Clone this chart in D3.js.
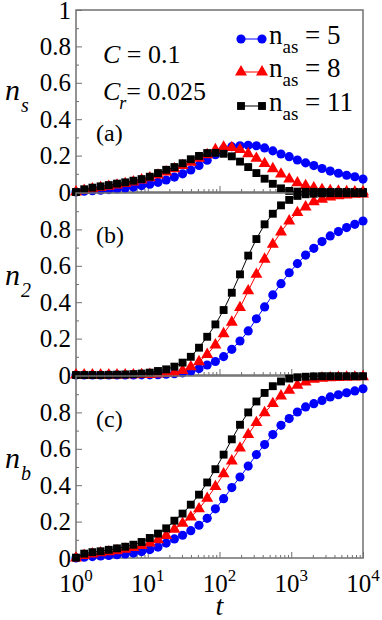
<!DOCTYPE html>
<html><head><meta charset="utf-8">
<script src="https://cdn.jsdelivr.net/npm/d3@7"></script>
<style>
body{margin:0;background:#fff;}
svg{display:block;}
#chart text, #chart tspan{font-family:"Liberation Serif" !important;}
</style>
</head><body>
<svg id="chart" width="382" height="620"></svg>
<script>
// sample times
const tValues = [1, 1.301, 1.693, 2.203, 2.865, 3.728, 4.850, 6.310, 8.209, 10.68, 13.89, 18.07, 23.51, 30.59, 39.81, 51.79, 67.38, 87.68, 114.1, 148.4, 193.1, 251.2, 326.8, 425.3, 553.3, 719.7, 936.5, 1218, 1585, 2062, 2683, 3491, 4542, 5910, 7689, 10000];

// panel (a): n_s
const ns5  = [0, 0.004, 0.007, 0.010, 0.013, 0.017, 0.021, 0.027, 0.035, 0.043, 0.053, 0.066, 0.082, 0.100, 0.121, 0.146, 0.175, 0.205, 0.236, 0.249, 0.254, 0.257, 0.254, 0.242, 0.226, 0.209, 0.194, 0.176, 0.160, 0.145, 0.129, 0.115, 0.103, 0.092, 0.084, 0.071];
const ns8  = [0, 0.009, 0.017, 0.024, 0.031, 0.038, 0.046, 0.055, 0.066, 0.078, 0.093, 0.110, 0.128, 0.145, 0.163, 0.185, 0.205, 0.232, 0.247, 0.244, 0.233, 0.210, 0.185, 0.156, 0.128, 0.098, 0.071, 0.050, 0.035, 0.023, 0.013, 0.008, 0.004, 0.002, 0.001, 0.001];
const ns11 = [0, 0.015, 0.024, 0.031, 0.038, 0.046, 0.053, 0.062, 0.071, 0.084, 0.104, 0.122, 0.137, 0.158, 0.180, 0.198, 0.214, 0.215, 0.210, 0.196, 0.167, 0.137, 0.104, 0.073, 0.045, 0.020, 0.006, 0.002, 0.001, 0.001, 0, 0, 0, 0, 0, 0];

// panel (b): n_2
const n2_5  = [0, 0, 0, 0, 0, 0, 0, 0, 0.001, 0.001, 0.002, 0.004, 0.007, 0.012, 0.021, 0.035, 0.055, 0.074, 0.101, 0.141, 0.187, 0.242, 0.309, 0.374, 0.440, 0.502, 0.562, 0.612, 0.659, 0.696, 0.733, 0.764, 0.788, 0.810, 0.828, 0.846];
const n2_8  = [0, 0, 0, 0, 0, 0, 0.001, 0.001, 0.002, 0.003, 0.005, 0.008, 0.012, 0.025, 0.045, 0.073, 0.113, 0.165, 0.227, 0.290, 0.370, 0.462, 0.553, 0.636, 0.718, 0.786, 0.846, 0.892, 0.923, 0.952, 0.965, 0.978, 0.985, 0.989, 0.993, 0.994];
const n2_11 = [0, 0, 0, 0, 0.001, 0.002, 0.003, 0.005, 0.008, 0.013, 0.022, 0.031, 0.046, 0.068, 0.100, 0.150, 0.210, 0.278, 0.357, 0.452, 0.553, 0.656, 0.747, 0.828, 0.886, 0.932, 0.962, 0.984, 0.993, 0.996, 0.998, 0.999, 0.999, 0.999, 0.999, 0.999];

// panel (c): n_b
const nb5  = [0, 0.004, 0.008, 0.011, 0.014, 0.018, 0.022, 0.027, 0.035, 0.046, 0.060, 0.082, 0.105, 0.125, 0.150, 0.180, 0.218, 0.270, 0.326, 0.387, 0.445, 0.505, 0.568, 0.623, 0.678, 0.729, 0.766, 0.802, 0.830, 0.848, 0.866, 0.885, 0.897, 0.908, 0.918, 0.930];
const nb8  = [0, 0.014, 0.022, 0.028, 0.034, 0.040, 0.048, 0.057, 0.068, 0.082, 0.100, 0.124, 0.158, 0.190, 0.225, 0.270, 0.328, 0.392, 0.462, 0.533, 0.604, 0.678, 0.744, 0.798, 0.848, 0.890, 0.921, 0.949, 0.967, 0.982, 0.988, 0.990, 0.992, 0.993, 0.994, 0.995];
const nb11 = [0.002, 0.024, 0.032, 0.037, 0.045, 0.053, 0.062, 0.073, 0.088, 0.110, 0.134, 0.163, 0.205, 0.244, 0.293, 0.348, 0.415, 0.488, 0.568, 0.652, 0.732, 0.800, 0.860, 0.907, 0.944, 0.970, 0.986, 0.993, 0.996, 0.998, 0.999, 0.999, 0.999, 0.999, 0.999, 0.999];

const seriesLabels = ["5", "8", "11"];
const yTicksA = [0, 0.2, 0.4, 0.6, 0.8, 1];
const yTicksBC = [0, 0.2, 0.4, 0.6, 0.8];
const yMinor = [0.1, 0.3, 0.5, 0.7, 0.9];
const xMajorExp = [0, 1, 2, 3, 4];

const FONT = "Liberation Serif";
const colors = ["#0000ff", "#ff0000", "#000000"];
const lineColors = ["#0000ff", "#ff0000", "#000000"];
const shapes = [d3.symbolCircle, d3.symbolTriangle, d3.symbolSquare];
const sizes = [66, 62, 62];

const svg = d3.select("#chart").attr("font-family", FONT);
const X0 = 76, X1 = 363;
const x = d3.scaleLog().domain([1, 1e4]).range([X0, X1]);
const frameColor = "#707070";

function txt(sel) { return sel.attr("font-family", FONT).style("font-family", `"${FONT}"`).attr("fill", "#000"); }

const xMinor = [];
xMajorExp.slice(0, 4).forEach(e => { for (let m = 2; m <= 9; m++) xMinor.push(m * Math.pow(10, e)); });

const panels = [
  {data: [ns5, ns8, ns11], range: [192, 10], ticks: yTicksA, sub: "s", tag: "(a)", nY: 100, tagY: 141},
  {data: [n2_5, n2_8, n2_11], range: [375, 193], ticks: yTicksBC, sub: "2", tag: "(b)", nY: 285, tagY: 243},
  {data: [nb5, nb8, nb11], range: [558, 376], ticks: yTicksBC, sub: "b", tag: "(c)", nY: 468, tagY: 427}
];

panels.forEach(p => {
  const y = d3.scaleLinear().domain([0, 1]).range(p.range);
  const g = svg.append("g");
  const ax = g.append("g").attr("transform", `translate(0,${p.range[0]})`)
    .call(d3.axisBottom(x).tickValues(xMajorExp.map(e => Math.pow(10, e))).tickSize(-6).tickFormat(""));
  const axm = g.append("g").attr("transform", `translate(0,${p.range[0]})`)
    .call(d3.axisBottom(x).tickValues(xMinor).tickSize(-3).tickFormat(""));
  const ay = g.append("g").attr("transform", `translate(${X0},0)`)
    .call(d3.axisLeft(y).tickValues(p.ticks).tickSize(-6).tickPadding(5).tickFormat(d => String(d)));
  const aym = g.append("g").attr("transform", `translate(${X0},0)`)
    .call(d3.axisLeft(y).tickValues(yMinor).tickSize(-3).tickFormat(""));
  [ax, axm, ay, aym].forEach(a => {
    a.attr("font-family", FONT);
    a.select(".domain").remove();
    a.selectAll(".tick line").attr("stroke", frameColor).attr("stroke-width", 1);
  });
  txt(ay.selectAll(".tick text")).style("font-size", "25px");
  g.append("rect").attr("x", X0).attr("y", p.range[1]).attr("width", X1 - X0).attr("height", p.range[0] - p.range[1])
    .attr("fill", "none").attr("stroke", frameColor).attr("stroke-width", 1.5);

  p.data.forEach((vals, si) => {
    const pts = tValues.map((t, i) => [x(t), y(vals[i])]);
    g.append("path").attr("d", d3.line()(pts)).attr("fill", "none")
      .attr("stroke", lineColors[si]).attr("stroke-width", 1);
    g.selectAll(null).data(pts).enter().append("path")
      .attr("transform", d => `translate(${d[0]},${d[1]})`)
      .attr("d", d3.symbol().type(shapes[si]).size(sizes[si]))
      .attr("fill", colors[si]);
  });

  const yl = txt(svg.append("text")).attr("x", 5).attr("y", p.nY).style("font-style", "italic").style("font-size", "30px").text("n");
  yl.append("tspan").attr("dy", 12).attr("dx", 1).style("font-size", "20px").text(p.sub);
  txt(svg.append("text")).attr("x", 96).attr("y", p.tagY).style("font-size", "24px").text(p.tag);
});

const bottomY = 592;
xMajorExp.forEach(e => {
  const tx = txt(svg.append("text")).attr("x", x(Math.pow(10, e))).attr("y", bottomY)
    .attr("text-anchor", "middle").style("font-size", "25px").text("10");
  tx.append("tspan").attr("dy", -11).style("font-size", "17px").text(String(e));
});
txt(svg.append("text")).attr("x", (X0 + X1) / 2).attr("y", 615).attr("text-anchor", "middle")
  .style("font-style", "italic").style("font-size", "28px").text("t");

const c1 = txt(svg.append("text")).attr("x", 103).attr("y", 63).style("font-size", "26px");
c1.append("tspan").style("font-style", "italic").text("C");
c1.append("tspan").text(" = 0.1");
const c2 = txt(svg.append("text")).attr("x", 103).attr("y", 100).style("font-size", "26px");
c2.append("tspan").style("font-style", "italic").text("C");
c2.append("tspan").attr("dy", 9).attr("dx", -1).style("font-style", "italic").style("font-size", "18px").text("r");
c2.append("tspan").attr("dy", -9).text("= 0.025");

const legY = [39, 72, 106];
seriesLabels.forEach((lab, si) => {
  const ly = legY[si];
  svg.append("line").attr("x1", 241).attr("x2", 262).attr("y1", ly).attr("y2", ly)
    .attr("stroke", lineColors[si]).attr("stroke-width", 1);
  [241, 262].forEach(lx => {
    svg.append("path").attr("transform", `translate(${lx},${ly})`)
      .attr("d", d3.symbol().type(shapes[si]).size(sizes[si])).attr("fill", colors[si]);
  });
  const lt = txt(svg.append("text")).attr("x", 269).attr("y", ly + 5).style("font-size", "27px").text("n");
  lt.append("tspan").attr("dy", 9).style("font-size", "19px").text("as");
  lt.append("tspan").attr("dy", -9).text(" = " + lab);
});
</script>
</body></html>
